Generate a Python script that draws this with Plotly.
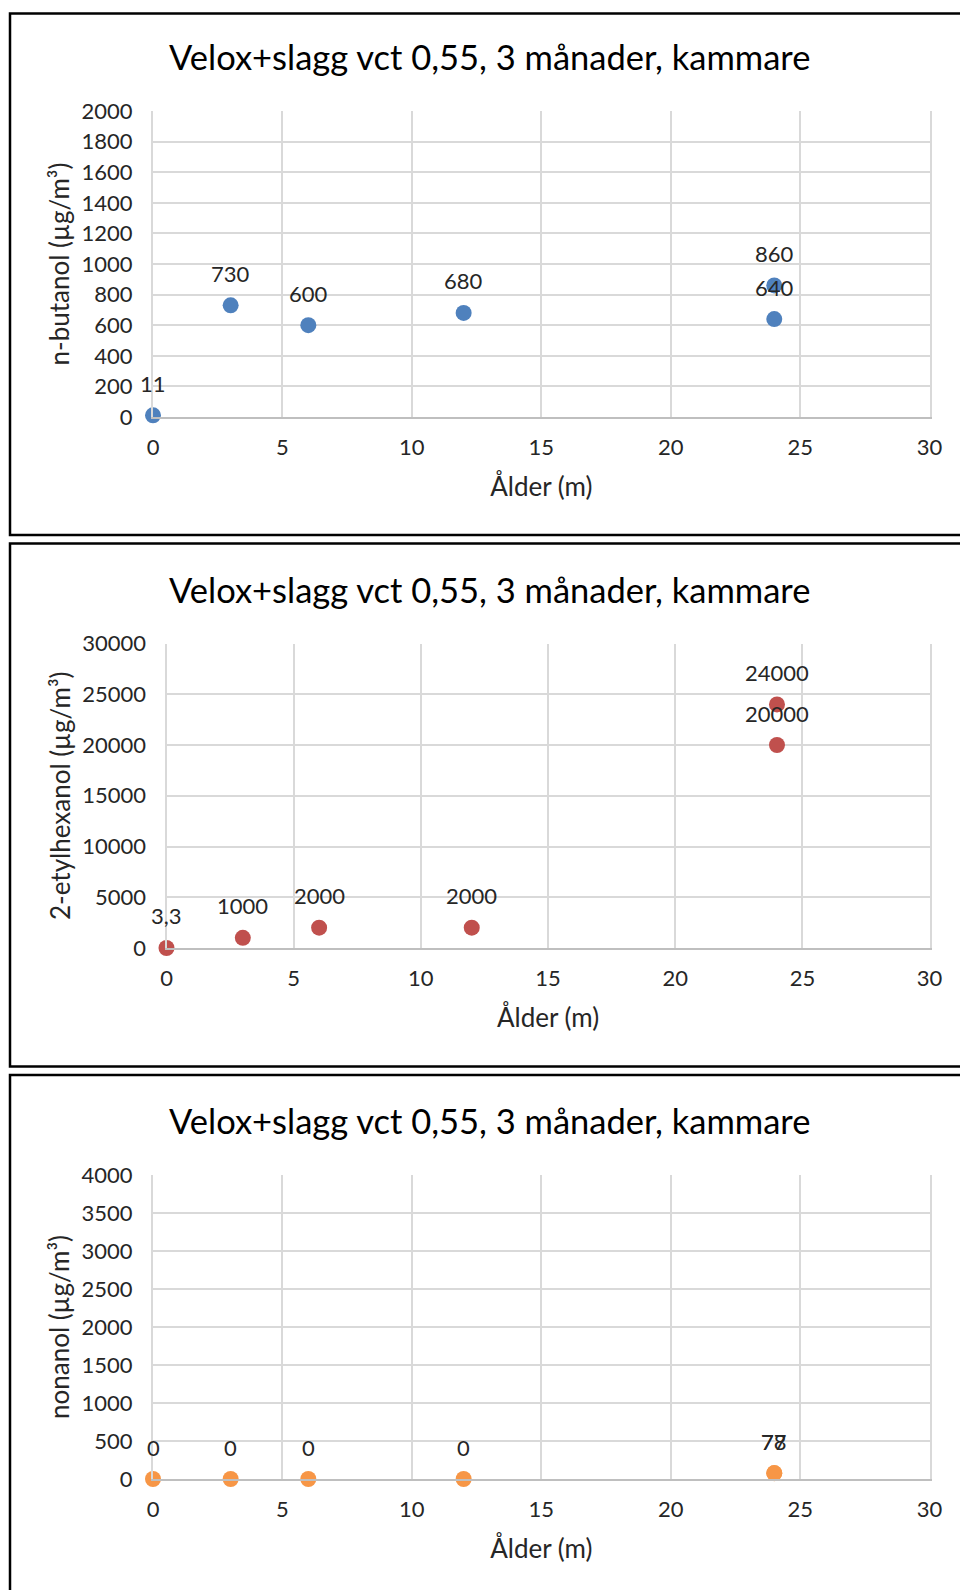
import plotly.graph_objects as go

# ---- data ----
ages = [0, 3, 6, 12, 24, 24]

butanol = [11, 730, 600, 680, 860, 640]
butanol_labels = ["11", "730", "600", "680", "860", "640"]

etylhexanol = [3.3, 1000, 2000, 2000, 24000, 20000]
etylhexanol_labels = ["3,3", "1000", "2000", "2000", "24000", "20000"]

nonanol = [0, 0, 0, 0, 78, 77]
nonanol_labels = ["0", "0", "0", "0", "78", "77"]

chart_title = "Velox+slagg vct 0,55, 3 månader, kammare"
x_title = "Ålder (m)"
y_titles = ["n-butanol (µg/m³)", "2-etylhexanol (µg/m³)", "nonanol (µg/m³)"]
y_ranges = [[0, 2000], [0, 30000], [0, 4000]]
y_dticks = [200, 5000, 500]
x_range = [0, 30]
x_dtick = 5

W, H = 960, 1590
FONT = "Lato"
TXT = "#262626"

panels = [
    dict(values=butanol, labels=butanol_labels, color="#4F81BD",
         px_x=(153, 929.6), px_y=(111, 417), box=(13.5, 535), title_y=57),
    dict(values=etylhexanol, labels=etylhexanol_labels, color="#C0504D",
         px_x=(166.5, 929.6), px_y=(643.5, 948), box=(543.5, 1066.5), title_y=590),
    dict(values=nonanol, labels=nonanol_labels, color="#F79646",
         px_x=(153, 929.6), px_y=(1175, 1479), box=(1075, 1640), title_y=1120),
]

fig = go.Figure()
layout = dict(width=W, height=H, margin=dict(l=0, r=0, t=0, b=0),
              paper_bgcolor="white", plot_bgcolor="white",
              font=dict(family=FONT, color=TXT), showlegend=False)
shapes = []
annotations = []

for i, p in enumerate(panels):
    sfx = "" if i == 0 else str(i + 1)
    xa, ya = "x" + sfx, "y" + sfx
    fig.add_trace(go.Scatter(x=ages, y=p["values"], mode="markers",
                             marker=dict(color=p["color"], size=16),
                             xaxis=xa, yaxis=ya, cliponaxis=False,
                             hoverinfo="skip"))
    for xv, yv, t in zip(ages, p["values"], p["labels"]):
        annotations.append(dict(x=xv, y=yv, xref=xa, yref=ya, text=t,
                                showarrow=False, yshift=32,
                                font=dict(size=22, family=FONT, color=TXT)))
    x0, x1 = p["px_x"]
    y0, y1 = p["px_y"]
    layout["xaxis" + sfx] = dict(
        domain=[x0 / W, x1 / W], range=x_range, dtick=x_dtick, tick0=0,
        anchor=ya, showgrid=True, gridcolor="#D9D9D9", gridwidth=2,
        zeroline=False, showline=True, linecolor="#BFBFBF", linewidth=2,
        ticks="outside", ticklen=10, tickcolor="rgba(0,0,0,0)",
        tickfont=dict(size=22, family=FONT, color=TXT),
        title=dict(text=x_title, standoff=18, font=dict(size=26, family=FONT, color=TXT)),
        automargin=False, fixedrange=True)
    layout["yaxis" + sfx] = dict(
        domain=[1 - y1 / H, 1 - y0 / H], range=y_ranges[i], dtick=y_dticks[i], tick0=0,
        anchor=xa, showgrid=True, gridcolor="#D9D9D9", gridwidth=2,
        zeroline=False, showline=True, mirror=True, linecolor="#D9D9D9", linewidth=2,
        tickformat="d",
        ticks="outside", ticklen=14, tickcolor="rgba(0,0,0,0)",
        tickfont=dict(size=22, family=FONT, color=TXT),
        title=dict(text=y_titles[i], standoff=4, font=dict(size=26, family=FONT, color=TXT)),
        automargin=False, fixedrange=True)
    b0, b1 = p["box"]
    shapes.append(dict(type="rect", xref="paper", yref="paper",
                       x0=10 / W, x1=1.05, y0=1 - b1 / H, y1=1 - b0 / H,
                       line=dict(color="black", width=2.5), fillcolor="rgba(0,0,0,0)"))
    annotations.append(dict(x=490 / W, y=1 - p["title_y"] / H, xref="paper", yref="paper",
                            text=chart_title, showarrow=False, xanchor="center", yanchor="middle",
                            font=dict(size=34.5, family=FONT, color="#000000")))

layout["shapes"] = shapes
layout["annotations"] = annotations
fig.update_layout(**layout)
fig.write_html("out.html")
